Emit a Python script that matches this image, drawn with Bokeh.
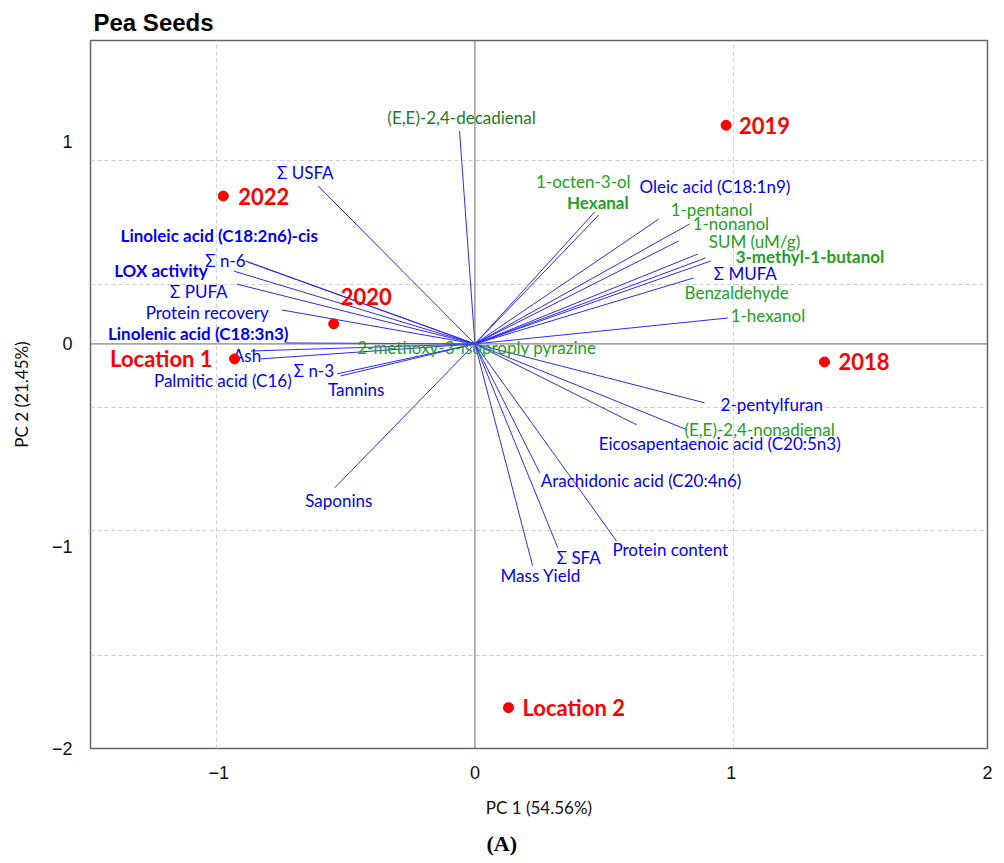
from bokeh.plotting import figure
from bokeh.models import ColumnDataSource, FixedTicker, Span, Title
from bokeh.core.properties import value
from bokeh.embed import file_html
from bokeh.resources import INLINE

# ---- PCA scores (samples) ----
score_names = ["2018", "2019", "2020", "2022", "Location 1", "Location 2"]
score_pc1 = [1.364, 0.980, -0.551, -0.982, -0.938, 0.131]
score_pc2 = [-0.089, 1.081, 0.099, 0.731, -0.074, -1.798]

# ---- PCA loadings (variables) ----
var_names = [
    "(E,E)-2,4-decadienal", "\u03a3 USFA", "Hexanal", "1-octen-3-ol",
    "1-pentanol", "1-nonanol", "SUM (uM/g)", "3-methyl-1-butanol",
    "Oleic acid (C18:1n9)", "\u03a3 MUFA", "Benzaldehyde", "1-hexanol",
    "2-methoxy-3-isoproply pyrazine", "2-pentylfuran", "(E,E)-2,4-nonadienal",
    "Eicosapentaenoic acid (C20:5n3)", "Arachidonic acid (C20:4n6)",
    "Protein content", "\u03a3 SFA", "Mass Yield", "Saponins",
    "Linoleic acid (C18:2n6)-cis", "\u03a3 n-6", "LOX activity", "\u03a3 PUFA",
    "Protein recovery", "Linolenic acid (C18:3n3)", "Ash",
    "Palmitic acid (C16)", "\u03a3 n-3", "Tannins",
]
var_pc1 = [
    -0.060, -0.611, 0.483, 0.467,
    0.717, 0.838, 0.795, 0.869,
    0.900, 0.920, 0.853, 0.986,
    -0.020, 0.896, 0.829,
    0.631, 0.253,
    0.552, 0.323, 0.225, -0.547,
    -0.895, -0.887, -0.941, -0.930,
    -0.754, -0.739, -0.874,
    -0.836, -0.538, -0.523,
]
var_pc2 = [
    1.052, 0.780, 0.637, 0.652,
    0.617, 0.593, 0.509, 0.444,
    0.425, 0.410, 0.326, 0.128,
    0.005, -0.291, -0.425,
    -0.400, -0.637,
    -0.973, -1.007, -1.096, -0.711,
    0.410, 0.405, 0.360, 0.296,
    0.168, 0.005, -0.035,
    -0.074, -0.148, -0.158,
]
# variable group: "fa" = compositional / fatty acid (blue), "vol" = volatile (green)
var_group = [
    "vol_dark", "fa", "vol", "vol",
    "vol", "vol", "vol", "vol",
    "fa", "fa", "vol", "vol",
    "vol", "fa", "vol",
    "fa", "fa",
    "fa", "fa", "fa", "fa",
    "fa", "fa", "fa", "fa",
    "fa", "fa", "fa",
    "fa", "fa", "fa",
]
var_bold = {"Hexanal", "3-methyl-1-butanol", "Linoleic acid (C18:2n6)-cis",
            "LOX activity", "Linolenic acid (C18:3n3)"}

# ---- label placement (screen pixels relative to arrow tip) ----
var_dx = [2, -13, 30, 36, 12, 3, 30, 38, -66, 3, -9, 3,
          7, 16, -3, -38, 1, -4, -1, -32, 4,
          -125, -2, -26, -9, -13, 3, -4, 31, -3, -13]
var_dy = [-14, -14, -13, -31, -10, 0, 1, 2, -71, 13, 15, -3,
          5, 2, 0, 19, 8, 9, 10, 10, 13,
          -25, -2, -1, 7, 3, -9, 4, 22, -3, 14]
var_align = ["center", "center", "right", "right", "left", "left", "left", "left",
             "left", "left", "left", "left",
             "center", "left", "left", "left", "left", "left", "left", "left", "center",
             "left", "right", "right", "right", "right", "right", "center", "right",
             "right", "left"]

score_dx = [14, 13, 7, 15, -22, 14]
score_dy = [0, 0, -27, 0, 0, 0]
score_align = ["left", "left", "left", "left", "right", "left"]

# grid positions and ticks
x_ticks = [-1, 0, 1, 2]
y_ticks = [-2, -1, 0, 1]
x_grid = [-1.01, 1.01]
y_grid = [0.909, 0.296, -0.316, -0.923, -1.541]

BLUE = "#0000ff"
LINE_BLUE = "#2b2bff"
GREEN = "#22a122"
DARK_GREEN = "#1f7a1f"
RED = "#ff0000"
LABEL_FONT = "Lato"

color_map = {"fa": BLUE, "vol": GREEN, "vol_dark": DARK_GREEN}

p = figure(
    width=1004, height=863,
    x_range=(-1.5, 2.0), y_range=(-2.0, 1.5),
    output_backend="svg", toolbar_location=None,
    min_border_left=90, min_border_right=17,
    min_border_top=40, min_border_bottom=115,
    background_fill_color="white", border_fill_color="white",
)

p.title.text = "Pea Seeds"
p.title.text_font = "Liberation Sans"
p.title.text_font_size = "24px"
p.title.text_font_style = "bold"
p.title.text_color = "#000000"
p.title.align = "left"
p.title.offset = 3
p.title.standoff = 10

p.add_layout(Title(text="(A)", align="left", text_font="Liberation Serif",
                   text_font_size="22px", text_font_style="bold",
                   text_color="#000000", offset=396, standoff=16), "below")

p.outline_line_color = "#666666"
p.outline_line_width = 1.5

for ax in (p.xaxis[0], p.yaxis[0]):
    ax.axis_line_color = None
    ax.major_tick_line_color = None
    ax.minor_tick_line_color = None
    ax.major_label_text_font = "Liberation Sans"
    ax.major_label_text_font_size = "18px"
    ax.major_label_text_color = "#111111"
    ax.axis_label_text_font = LABEL_FONT
    ax.axis_label_text_font_size = "17px"
    ax.axis_label_text_font_style = "normal"
    ax.axis_label_text_color = "#111111"

p.xaxis.ticker = FixedTicker(ticks=x_ticks)
p.yaxis.ticker = FixedTicker(ticks=y_ticks)
p.xaxis.major_label_overrides = {t: str(t).replace("-", "\u2212") for t in x_ticks}
p.yaxis.major_label_overrides = {t: str(t).replace("-", "\u2212") for t in y_ticks}
p.xaxis.axis_label = "PC 1 (54.56%)"
p.yaxis.axis_label = "PC 2 (21.45%)"
p.xaxis.major_label_standoff = 11
p.yaxis.major_label_standoff = 12
p.xaxis.axis_label_standoff = 15
p.yaxis.axis_label_standoff = 17

p.xgrid.ticker = FixedTicker(ticks=x_grid)
p.ygrid.ticker = FixedTicker(ticks=y_grid)
for g in (p.xgrid[0], p.ygrid[0]):
    g.grid_line_color = "#cfcfcf"
    g.grid_line_dash = "4 3"
    g.grid_line_width = 1

# zero reference lines
p.add_layout(Span(location=0, dimension="height", line_color="#666666", line_width=1))
p.add_layout(Span(location=0, dimension="width", line_color="#666666", line_width=1))

# loading vectors
load_src = ColumnDataSource(dict(
    x0=[0.0] * len(var_names), y0=[0.0] * len(var_names),
    x1=var_pc1, y1=var_pc2, name=var_names,
    color=[color_map[g] for g in var_group],
    style=["bold" if n in var_bold else "normal" for n in var_names],
    dx=var_dx, dy=var_dy, align=var_align,
))
p.segment(x0="x0", y0="y0", x1="x1", y1="y1", source=load_src,
          line_color=LINE_BLUE, line_width=1)
p.text(x="x1", y="y1", text="name", source=load_src,
       x_offset="dx", y_offset="dy", text_align="align",
       text_baseline="middle", text_color="color", text_font_style="style",
       text_font=value(LABEL_FONT), text_font_size="17px")

# sample scores
score_src = ColumnDataSource(dict(
    x=score_pc1, y=score_pc2, name=score_names,
    dx=score_dx, dy=score_dy, align=score_align,
))
p.scatter(x="x", y="y", source=score_src, size=10, fill_color=RED,
          line_color=RED, marker="circle")
p.text(x="x", y="y", text="name", source=score_src,
       x_offset="dx", y_offset="dy", text_align="align",
       text_baseline="middle", text_color=RED, text_font_style="bold",
       text_font=value(LABEL_FONT), text_font_size="22px")

open("out.html", "w").write(file_html(p, INLINE))
